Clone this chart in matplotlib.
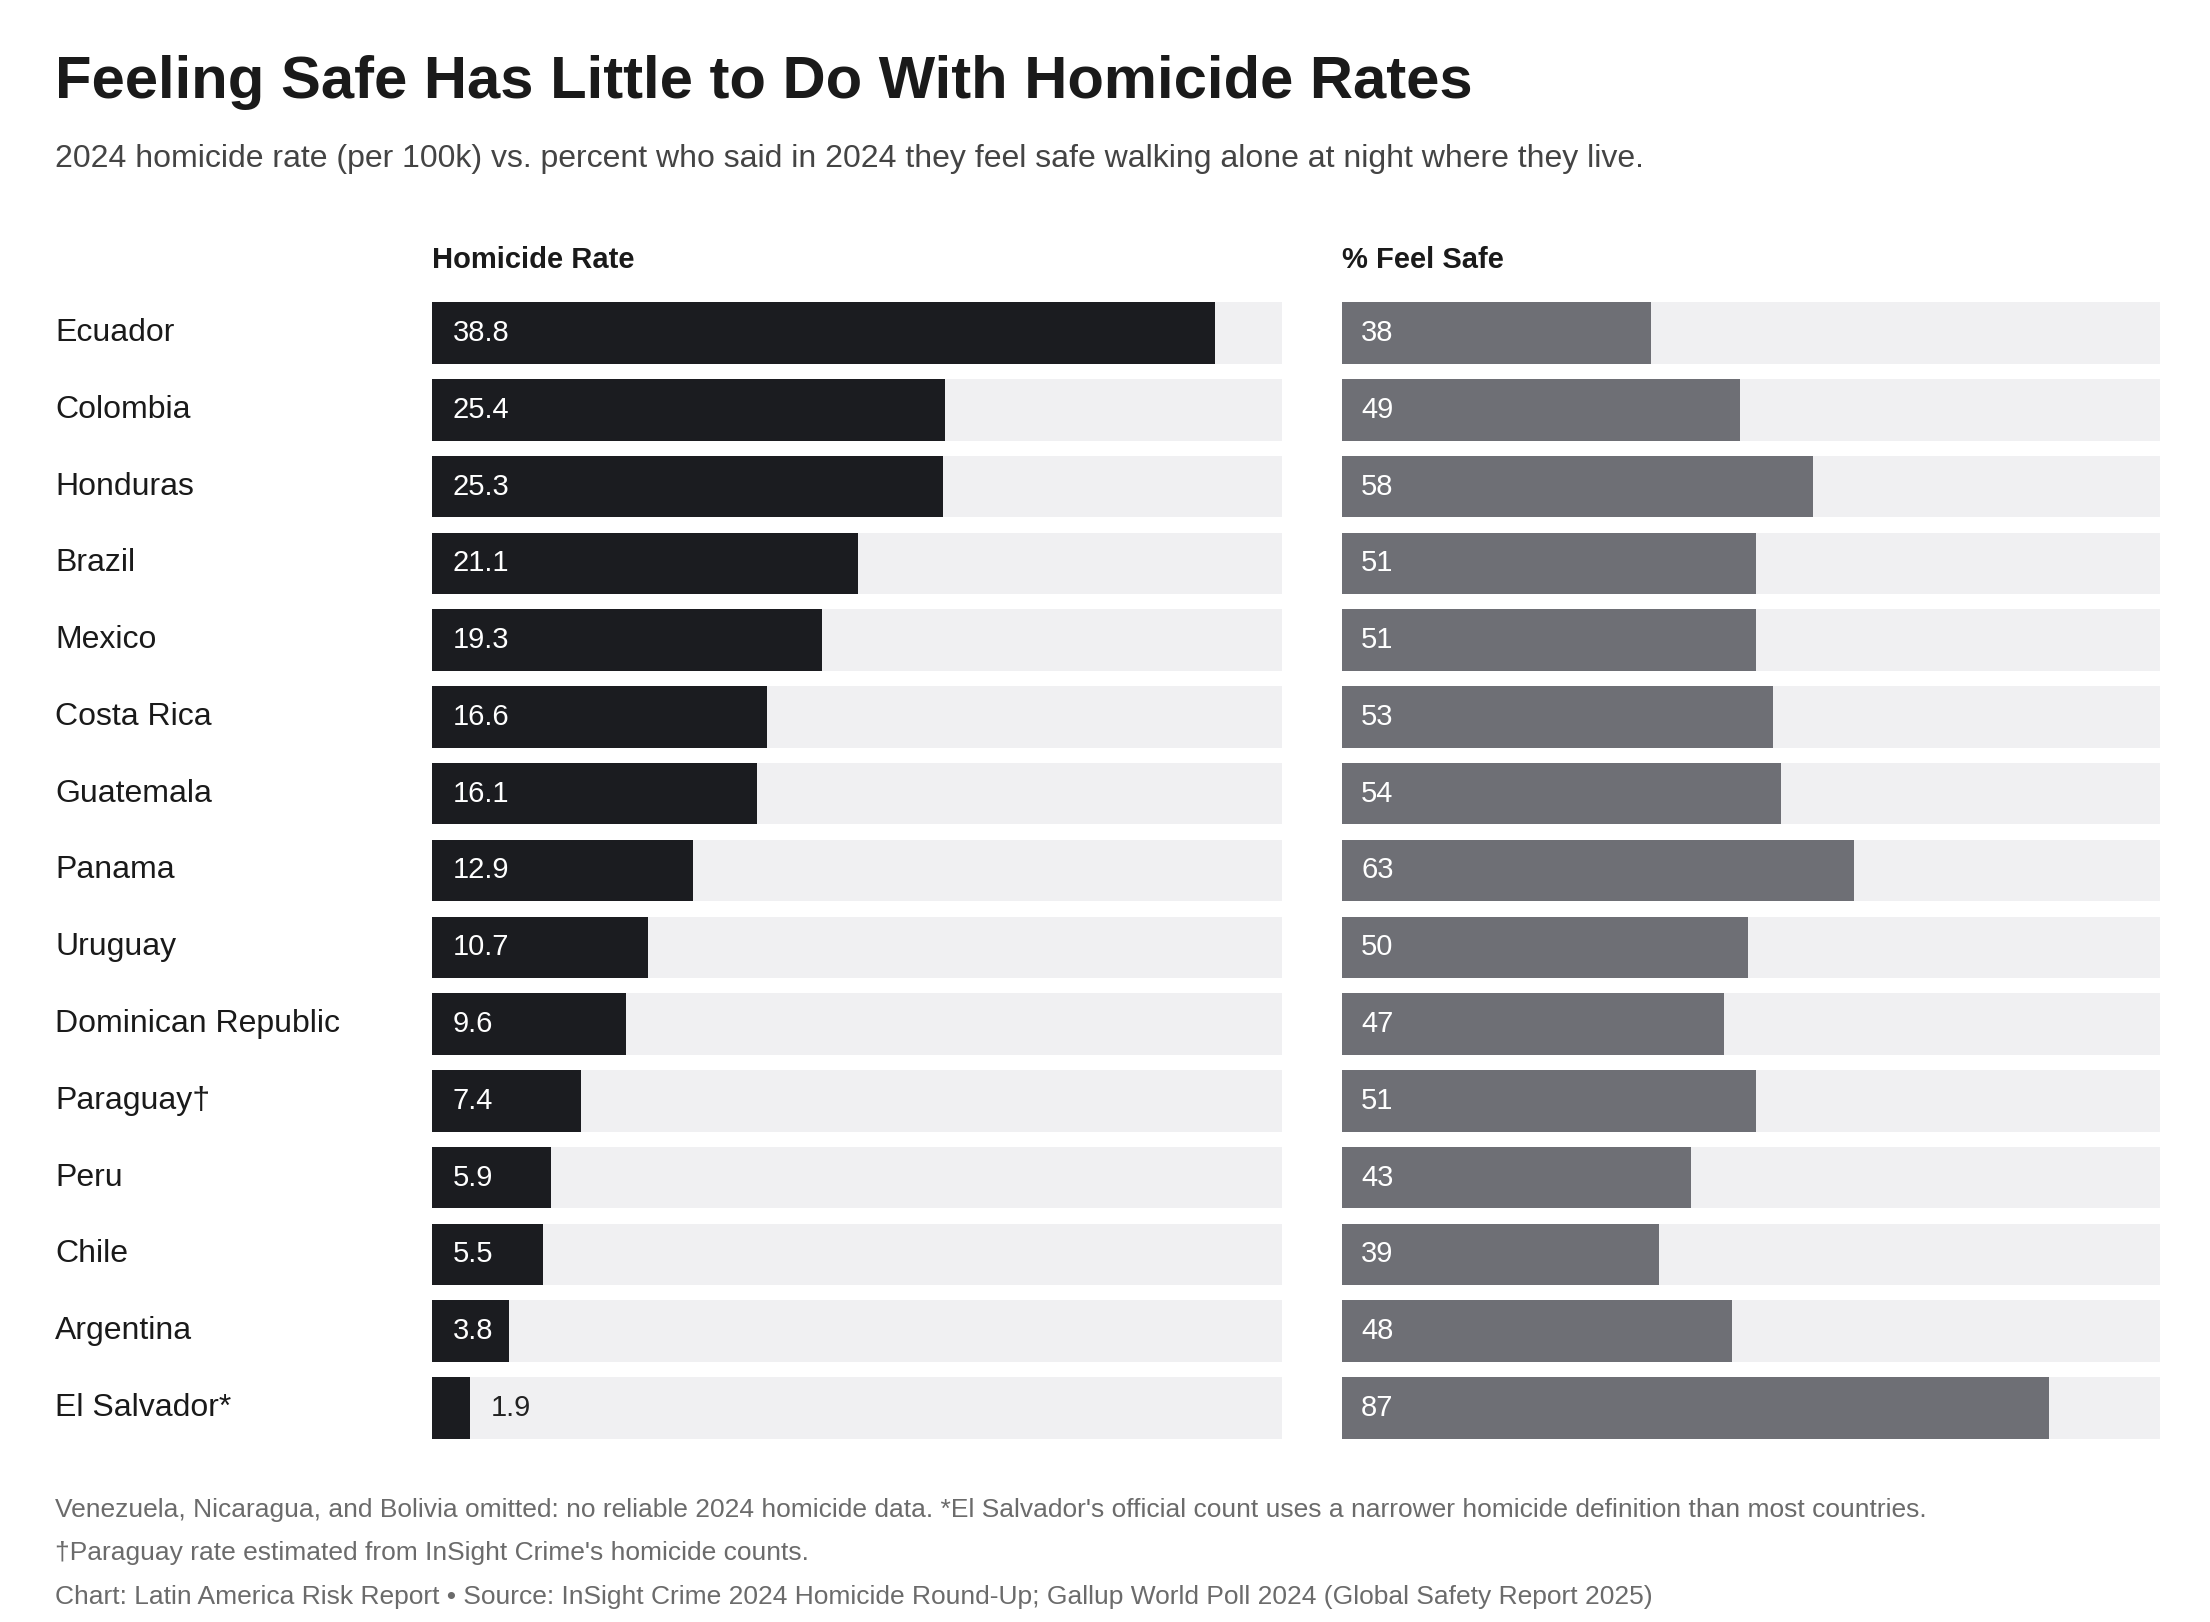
import matplotlib.pyplot as plt

plt.rcParams['font.family'] = ['Liberation Sans', 'DejaVu Sans']

countries = ['Ecuador', 'Colombia', 'Honduras', 'Brazil', 'Mexico', 'Costa Rica',
             'Guatemala', 'Panama', 'Uruguay', 'Dominican Republic', 'Paraguay\u2020',
             'Peru', 'Chile', 'Argentina', 'El Salvador*']
homicide = [38.8, 25.4, 25.3, 21.1, 19.3, 16.6, 16.1, 12.9, 10.7, 9.6, 7.4, 5.9, 5.5, 3.8, 1.9]
feel_safe = [38, 49, 58, 51, 51, 53, 54, 63, 50, 47, 51, 43, 39, 48, 87]

W, H = 1560, 1145  # layout coordinates (scaled from the reference)
def fx(x): return x / W
def fy(y): return 1 - y / H

fig = plt.figure(figsize=(22.1, 16.22), dpi=100)
fig.patch.set_facecolor('white')

fig.text(fx(39), fy(58), 'Feeling Safe Has Little to Do With Homicide Rates',
         fontsize=43, fontweight='bold', color='#1a1a1a', va='center')
fig.text(fx(39), fy(112), '2024 homicide rate (per 100k) vs. percent who said in 2024 they feel safe walking alone at night where they live.',
         fontsize=23, color='#444444', va='center')

top, bot = 208, 1021
ax1 = fig.add_axes([fx(305), fy(bot), (905 - 305) / W, (bot - top) / H])
ax2 = fig.add_axes([fx(947), fy(bot), (1525 - 947) / W, (bot - top) / H])

n = len(countries)
ys = list(range(n))
for ax, vals, xmax, col, fmt, name in [
        (ax1, homicide, 42.1, '#1b1c20', '{:.1f}', 'Homicide Rate'),
        (ax2, feel_safe, 100.7, '#6e6f75', '{:d}', '% Feel Safe')]:
    ax.barh(ys, [xmax] * n, height=0.8, color='#f0f0f2')
    ax.barh(ys, vals, height=0.8, color=col)
    for y, v in zip(ys, vals):
        if v / xmax > 0.08:
            ax.text(xmax * 0.024, y, fmt.format(v), color='white', fontsize=21, va='center')
        else:
            ax.text(v + xmax * 0.024, y, fmt.format(v), color='#222222', fontsize=21, va='center')
    ax.set_xlim(0, xmax)
    ax.set_ylim(n - 0.5, -0.5)
    ax.axis('off')
    ax.text(0, -0.95, name, fontsize=21, fontweight='bold', color='#1a1a1a', va='center')

for i, c in enumerate(countries):
    ax1.text(-0.185 * 42.1 / 0.4167 * 0.4167 * 1.0 - 0.0, i, '', fontsize=1)
    fig.text(fx(39), fy(top + (bot - top) * (i + 0.5) / n), c, fontsize=23,
             color='#1a1a1a', va='center')

fig.text(fx(39), fy(1066), "Venezuela, Nicaragua, and Bolivia omitted: no reliable 2024 homicide data. *El Salvador's official count uses a narrower homicide definition than most countries.",
         fontsize=19, color='#6b6b6b', va='center')
fig.text(fx(39), fy(1096), "\u2020Paraguay rate estimated from InSight Crime's homicide counts.",
         fontsize=19, color='#6b6b6b', va='center')
fig.text(fx(39), fy(1127), 'Chart: Latin America Risk Report \u2022 Source: InSight Crime 2024 Homicide Round-Up; Gallup World Poll 2024 (Global Safety Report 2025)',
         fontsize=19, color='#6b6b6b', va='center')

fig.savefig('out.png', dpi=100, facecolor='white')
